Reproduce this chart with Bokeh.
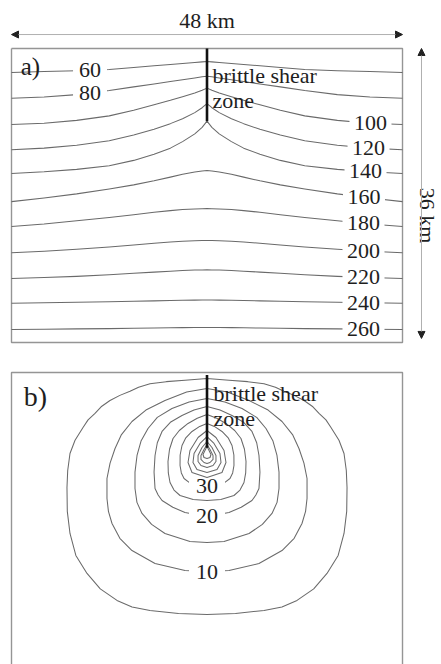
import numpy as np
from bokeh.plotting import figure
from bokeh.models import Range1d, Arrow, NormalHead
from bokeh.core.properties import value
from bokeh.embed import file_html
from bokeh.resources import INLINE

# ---------------- data ----------------
# Panel a: isotherms (deg C). Depth (km) at distance (km) from left edge, left half;
# the model is symmetric about the shear zone at 24 km.
iso_x = [0, 4, 8, 12, 15, 17.5, 19.5, 21, 22.5, 23.4, 24]
iso_levels = [60, 80, 100, 120, 140, 160, 180, 200, 220, 240, 260]
iso_60 = [2.95, 2.82, 2.73, 2.57, 2.33, 2.12, 1.96, 1.84, 1.71, 1.64, 1.59]
iso_80 = [6.10, 5.95, 5.65, 5.15, 4.70, 4.35, 4.05, 3.82, 3.60, 3.47, 3.40]
iso_100 = [9.30, 9.15, 8.80, 8.25, 7.55, 6.90, 6.35, 5.90, 5.45, 5.10, 4.85]
iso_120 = [12.40, 12.20, 11.85, 11.30, 10.60, 9.90, 9.20, 8.60, 7.85, 7.25, 6.75]
iso_140 = [15.30, 15.10, 14.80, 14.35, 13.70, 12.95, 12.20, 11.40, 10.45, 9.65, 8.90]
iso_160 = [18.75, 18.30, 17.80, 17.20, 16.70, 16.20, 15.75, 15.40, 15.12, 15.00, 14.95]
iso_180 = [21.80, 21.50, 21.10, 20.70, 20.35, 20.05, 19.85, 19.72, 19.64, 19.61, 19.60]
iso_200 = [25.00, 24.82, 24.58, 24.30, 24.07, 23.85, 23.70, 23.60, 23.54, 23.51, 23.50]
iso_220 = [28.15, 28.05, 27.90, 27.70, 27.52, 27.38, 27.27, 27.19, 27.13, 27.11, 27.10]
iso_240 = [31.20, 31.13, 31.06, 31.00, 30.95, 30.90, 30.86, 30.83, 30.81, 30.80, 30.80]
iso_260 = [34.40, 34.37, 34.33, 34.30, 34.26, 34.23, 34.20, 34.18, 34.16, 34.15, 34.15]
iso_depths = [iso_60, iso_80, iso_100, iso_120, iso_140, iso_160,
              iso_180, iso_200, iso_220, iso_240, iso_260]
left_labelled = ["60", "80"]
right_labelled = ["100", "120", "140", "160", "180", "200", "220", "240", "260"]

# Panel b: contours, left half (x km, depth km) from the top of each loop to its bottom
c5_x = [24, 21.3, 19.0, 17.0, 15.6, 14.55, 13.3, 12.09, 11.0, 10.25, 9.4, 8.78, 7.8, 7.18,
        6.9, 6.81, 6.85, 7.18, 7.9, 9.27, 10.9, 12.95, 14.8, 17.0, 20.5, 24]
c5_d = [0.73, 0.95, 1.12, 1.38, 1.8, 2.3, 2.8, 3.43, 4.2, 5.0, 5.8, 6.73, 8.3, 9.92,
        12.0, 14.08, 17.0, 19.71, 22.4, 24.60, 26.5, 27.91, 28.7, 29.14, 29.5, 29.63]
c10_x = [24, 21.5, 18.84, 16.5, 14.79, 13.5, 12.71, 12.1, 11.72, 11.72, 11.9, 12.34, 13.3,
         14.79, 17.62, 21.3, 24]
c10_d = [1.96, 2.4, 3.43, 4.6, 6.00, 7.6, 9.31, 11.1, 12.98, 15.43, 17.0, 18.49, 20.3,
         21.80, 23.39, 24.24, 24.37]
c15_x = [24, 21.8, 19.7, 17.9, 16.76, 15.9, 15.41, 15.16, 15.16, 15.4, 16.02, 17.2, 18.84,
         21.91, 24]
c15_d = [3.18, 3.6, 4.41, 5.5, 6.86, 8.4, 10.16, 12.2, 14.20, 15.9, 17.26, 18.6, 19.71,
         20.69, 20.82]
c20_x = [24, 22.4, 20.93, 19.5, 18.48, 17.9, 17.62, 17.5, 17.62, 18.0, 18.48, 19.8, 21.3, 24]
c20_d = [4.16, 4.6, 5.27, 6.1, 7.22, 8.6, 10.16, 12.2, 14.20, 15.0, 15.67, 16.5, 17.14, 17.63]
c25_x = [24, 22.8, 21.67, 20.6, 19.83, 19.4, 19.21, 19.25, 19.46, 19.95, 20.69, 22.3, 24]
c25_d = [5.14, 5.6, 6.24, 7.1, 8.08, 9.4, 10.90, 12.3, 13.47, 14.4, 15.06, 15.55, 15.67]
c30_x = [24, 23.1, 22.16, 21.4, 20.93, 20.7, 20.69, 20.85, 21.18, 21.8, 22.53, 24]
c30_d = [6.24, 6.6, 7.22, 8.0, 8.94, 10.1, 11.39, 12.3, 12.98, 13.45, 13.71, 13.84]
c35_x = [24, 22.9, 21.91, 21.67, 22.16, 24]
c35_d = [7.10, 7.96, 9.55, 11.02, 12.24, 12.86]
c40_x = [24, 23.14, 22.41, 22.28, 22.77, 24]
c40_d = [7.84, 8.69, 9.92, 11.02, 11.88, 12.24]
c45_x = [24, 23.39, 22.9, 22.9, 23.26, 24]
c45_d = [8.45, 9.18, 10.16, 10.90, 11.39, 11.63]
c50_x = [24, 23.63, 23.26, 23.26, 23.63, 24]
c50_d = [8.82, 9.43, 10.16, 10.65, 11.02, 11.14]
c55_x = [24, 23.75, 23.51, 23.63, 24]
c55_d = [9.06, 9.55, 10.04, 10.41, 10.53]
contours_b = [(c5_x, c5_d), (c10_x, c10_d), (c15_x, c15_d), (c20_x, c20_d),
              (c25_x, c25_d), (c30_x, c30_d), (c35_x, c35_d), (c40_x, c40_d),
              (c45_x, c45_d), (c50_x, c50_d), (c55_x, c55_d)]
b_labels = ["30", "20", "10"]
b_label_depth = [c30_d[-1], c20_d[-1], c10_d[-1]]

model_width_km = 48
model_depth_km = 36
shear_zone_a = [0.0, 8.9]   # depth range of the brittle shear zone (km)
shear_zone_b = [0.3, 9.2]

# ---------------- layout ----------------
W, H = 441, 664
SX, SY = 8.146, 8.167               # px per km
x0 = -11.0 / SX
y0 = -48.0 / SY
B_OFF = 324.0 / SY                  # panel b offset (km) below panel a top
UP = 0.86                           # text anchor correction (km)

p = figure(width=W, height=H, output_backend="svg", toolbar_location=None,
           x_range=Range1d(x0, x0 + W / SX), y_range=Range1d(y0 + H / SY, y0),
           min_border=0, background_fill_color="white", border_fill_color="white")
p.axis.visible = False
p.grid.visible = False
p.outline_line_color = None

FONT = value("Liberation Serif")
TXT = "#1e1e1e"
LINE = "#6a6a6a"
BOX = "#959595"


def mirror(xh, dh, off=0.0):
    xs = list(xh) + [model_width_km - v for v in reversed(xh[:-1])]
    ys = [d + off for d in dh] + [d + off for d in reversed(dh[:-1])]
    return xs, ys


# boxes
p.line([0, model_width_km, model_width_km, 0, 0],
       [0, 0, model_depth_km, model_depth_km, 0], line_color=BOX, line_width=1.4)
p.line([0, 0, model_width_km, model_width_km],
       [B_OFF + 45, B_OFF, B_OFF, B_OFF + 45], line_color=BOX, line_width=1.4)

# panel a isotherms
xs_a, ys_a = [], []
for d in iso_depths:
    xx, yy = mirror(iso_x, d)
    xs_a.append(xx)
    ys_a.append(yy)
p.multi_line(xs_a, ys_a, line_color=LINE, line_width=1.05, line_join="round")

# panel b contours
xs_b, ys_b = [], []
for cx, cd in contours_b:
    xx, yy = mirror(cx, cd, B_OFF)
    xs_b.append(xx)
    ys_b.append(yy)
p.multi_line(xs_b, ys_b, line_color=LINE, line_width=1.05, line_join="round")

# shear zones
p.line([24, 24], shear_zone_a, line_color="#111111", line_width=2.6)
p.line([24, 24], [B_OFF + v for v in shear_zone_b], line_color="#111111", line_width=2.6)

# contour labels with gaps in the lines
lx_left = [9.64, 9.64]
lx_right = [44.07, 43.83, 43.46, 43.27, 43.21, 43.21, 43.21, 43.21, 43.21]
lab_x, lab_y, lab_t, gap_w = [], [], [], []
for i, t in enumerate(left_labelled):
    lv = iso_levels.index(int(t))
    lab_x.append(lx_left[i])
    lab_y.append(float(np.interp(lx_left[i], iso_x, iso_depths[lv])))
    lab_t.append(t)
    gap_w.append(34)
for i, t in enumerate(right_labelled):
    lv = iso_levels.index(int(t))
    lab_x.append(lx_right[i])
    lab_y.append(float(np.interp(model_width_km - lx_right[i], iso_x, iso_depths[lv])))
    lab_t.append(t)
    gap_w.append(42)
for t, d in zip(b_labels, b_label_depth):
    lab_x.append(24)
    lab_y.append(B_OFF + d)
    lab_t.append(t)
    gap_w.append(36)

p.rect(lab_x, lab_y, width=gap_w, height=9, width_units="screen", height_units="screen",
       fill_color="white", line_color=None)
p.text(lab_x, lab_y, text=lab_t, text_font=FONT, text_font_size="22px",
       text_align="center", text_baseline="alphabetic", text_color=TXT)

# annotations
p.text([24.67, 24.67, 24.8, 24.8],
       [4.16 - UP, 7.18 - UP, B_OFF + 3.43 - UP, B_OFF + 6.49 - UP],
       text=["brittle shear", "zone", "brittle shear", "zone"],
       text_font=FONT, text_font_size="22px", text_align="left",
       text_baseline="alphabetic", text_color=TXT)
p.text([2.33], [3.12 - UP], text=["a)"], text_font=FONT, text_font_size="25px",
       text_align="center", text_baseline="alphabetic", text_color=TXT)
p.text([2.95], [B_OFF + 3.8 - UP], text=["b)"], text_font=FONT, text_font_size="28px",
       text_align="center", text_baseline="alphabetic", text_color=TXT)

# dimension arrows
head = dict(size=7, fill_color="#222222", line_color="#222222")
p.add_layout(Arrow(start=NormalHead(**head), end=NormalHead(**head),
                   x_start=0, y_start=-1.71, x_end=model_width_km, y_end=-1.71,
                   line_color="#b0b0b0", line_width=1))
p.text([24], [-2.57 - UP], text=["48 km"], text_font=FONT, text_font_size="22px",
       text_align="center", text_baseline="alphabetic", text_color=TXT)
p.add_layout(Arrow(start=NormalHead(**head), end=NormalHead(**head),
                   x_start=50.33, y_start=0.0, x_end=50.33, y_end=35.5,
                   line_color="#b0b0b0", line_width=1))
# rotated clockwise: letter tops facing right
p.text([51.07], [20.45], text=["36 km"], text_font=FONT, text_font_size="22px",
       text_align="center", text_baseline="alphabetic", text_color=TXT, angle=-np.pi / 2)

open("out.html", "w").write(file_html(p, INLINE))
